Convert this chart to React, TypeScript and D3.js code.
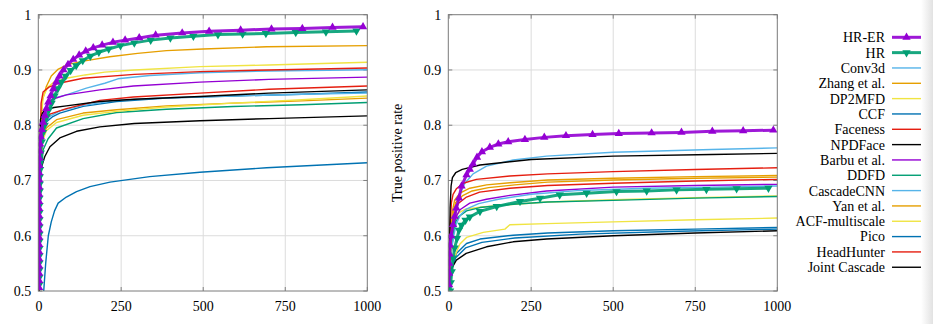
import React from "react";
import * as d3 from "d3";

type Pt = [number, number];

// ---------- shared labels ----------
const seriesNames = [
  "HR-ER", "HR", "Conv3d", "Zhang et al.", "DP2MFD", "CCF", "Faceness", "NPDFace",
  "Barbu et al.", "DDFD", "CascadeCNN", "Yan et al.", "ACF-multiscale", "Pico", "HeadHunter", "Joint Cascade",
];
const seriesColors = [
  "#9400d3", "#009e73", "#56b4e9", "#e69f00", "#f0e442", "#0072b2", "#e51e10", "#000000",
  "#9400d3", "#009e73", "#56b4e9", "#e69f00", "#f0e442", "#0072b2", "#e51e10", "#000000",
];
const xTicks = [0, 250, 500, 750, 1000];
const xTickLabels = ["0", "250", "500", "750", "1000"];
const yTicks = [0.5, 0.6, 0.7, 0.8, 0.9, 1];
const yTickLabels = ["0.5", "0.6", "0.7", "0.8", "0.9", "1"];
const yAxisTitle = "True positive rate";

// ---------- left panel (discrete) ----------
const leftHrEr: Pt[] = [
  [0, 0.506], [0, 0.519], [0, 0.532], [0, 0.545], [0, 0.558], [0, 0.571], [0, 0.584], [0, 0.597],
  [0, 0.61], [0, 0.623], [0, 0.636], [0, 0.649], [0, 0.662], [0, 0.675], [0, 0.688], [0, 0.701],
  [0, 0.714], [1, 0.727], [1, 0.74], [2, 0.753], [3, 0.766], [5, 0.779], [8, 0.792], [12, 0.805],
  [17, 0.818], [22, 0.83], [28, 0.842], [35, 0.853], [43, 0.866], [52, 0.878], [62, 0.889], [74, 0.9],
  [88, 0.91], [104, 0.919], [122, 0.927], [142, 0.934], [165, 0.94], [192, 0.945], [225, 0.95],
  [262, 0.954], [305, 0.958], [355, 0.963], [436, 0.967], [518, 0.97], [614, 0.972], [708, 0.974],
  [802, 0.975], [894, 0.977], [987, 0.978],
];
const leftHr: Pt[] = [
  [1, 0.512], [1, 0.525], [1, 0.538], [1, 0.551], [1, 0.564], [1, 0.577], [1, 0.59], [1, 0.603],
  [1, 0.616], [1, 0.629], [1, 0.642], [1, 0.655], [1, 0.668], [2, 0.681], [2, 0.694], [2, 0.707],
  [3, 0.72], [4, 0.733], [5, 0.75], [8, 0.77], [12, 0.787], [17, 0.8], [23, 0.815], [30, 0.828],
  [38, 0.84], [47, 0.853], [57, 0.866], [68, 0.878], [81, 0.889], [96, 0.899], [113, 0.908],
  [133, 0.917], [156, 0.925], [182, 0.932], [212, 0.938], [248, 0.944], [290, 0.949], [340, 0.954],
  [400, 0.958], [470, 0.961], [545, 0.964], [620, 0.965], [691, 0.966], [782, 0.968], [874, 0.969],
  [967, 0.9705],
];
const leftConv3d: Pt[] = [[0, 0.5], [4, 0.75], [10, 0.81], [25, 0.84], [50, 0.85], [83, 0.855], [144, 0.867], [200, 0.876], [240, 0.884], [337, 0.89], [490, 0.895], [700, 0.898], [1000, 0.9005]];
const leftZhang: Pt[] = [[0, 0.5], [2, 0.7], [5, 0.8], [10, 0.845], [22, 0.87], [37, 0.889], [57, 0.901], [88, 0.91], [144, 0.917], [215, 0.924], [300, 0.93], [388, 0.935], [500, 0.938], [693, 0.942], [1000, 0.944]];
const leftDp2mfd: Pt[] = [[0, 0.5], [2, 0.7], [5, 0.8], [12, 0.85], [25, 0.868], [45, 0.878], [83, 0.885], [140, 0.891], [200, 0.896], [290, 0.9], [490, 0.906], [700, 0.909], [1000, 0.914]];
const leftCcf: Pt[] = [[0, 0.5], [4, 0.74], [10, 0.79], [22, 0.806], [40, 0.815], [63, 0.822], [134, 0.834], [236, 0.843], [388, 0.849], [591, 0.853], [800, 0.856], [1000, 0.86]];
const leftFaceness: Pt[] = [[0, 0.5], [3, 0.75], [6, 0.84], [12, 0.86], [30, 0.869], [60, 0.876], [134, 0.885], [290, 0.892], [490, 0.897], [700, 0.9], [1000, 0.9035]];
const leftNpdface: Pt[] = [[0, 0.5], [5, 0.72], [17, 0.743], [33, 0.761], [63, 0.777], [114, 0.789], [185, 0.797], [290, 0.803], [490, 0.808], [700, 0.812], [1000, 0.817]];
const leftBarbu: Pt[] = [[0, 0.5], [3, 0.72], [8, 0.8], [15, 0.825], [25, 0.838], [40, 0.847], [83, 0.855], [185, 0.864], [287, 0.871], [490, 0.878], [700, 0.883], [1000, 0.887]];
const leftDdfd: Pt[] = [[0, 0.5], [5, 0.7], [12, 0.755], [27, 0.775], [53, 0.795], [134, 0.812], [236, 0.823], [388, 0.829], [591, 0.834], [800, 0.837], [1000, 0.841]];
const leftCascadeCnn: Pt[] = [[0, 0.5], [5, 0.76], [12, 0.8], [30, 0.815], [63, 0.826], [134, 0.836], [236, 0.845], [388, 0.85], [591, 0.853], [800, 0.856], [1000, 0.858]];
const leftYan: Pt[] = [[0, 0.5], [4, 0.72], [10, 0.775], [22, 0.795], [53, 0.81], [134, 0.822], [236, 0.828], [388, 0.835], [591, 0.84], [800, 0.844], [1000, 0.849]];
const leftAcf: Pt[] = [[0, 0.5], [4, 0.72], [10, 0.77], [22, 0.79], [53, 0.805], [134, 0.818], [236, 0.825], [388, 0.833], [591, 0.84], [800, 0.846], [1000, 0.853]];
const leftPico: Pt[] = [[14, 0.5], [20, 0.55], [28, 0.6], [37, 0.625], [47, 0.645], [58, 0.659], [83, 0.67], [114, 0.68], [155, 0.689], [216, 0.697], [337, 0.707], [490, 0.715], [693, 0.723], [1000, 0.732]];
const leftHeadHunter: Pt[] = [[0, 0.5], [4, 0.72], [10, 0.79], [17, 0.808], [33, 0.82], [83, 0.83], [185, 0.845], [287, 0.851], [490, 0.858], [700, 0.865], [1000, 0.871]];
const leftJointCascade: Pt[] = [[0, 0.5], [2, 0.7], [4, 0.81], [10, 0.822], [20, 0.828], [45, 0.832], [83, 0.835], [185, 0.843], [290, 0.847], [490, 0.852], [700, 0.858], [1000, 0.864]];

// ---------- right panel (continuous) ----------
const rightHrEr: Pt[] = [
  [0, 0.511], [0, 0.532], [0, 0.55], [1, 0.567], [2, 0.583], [6, 0.6], [12, 0.62], [17, 0.635],
  [22, 0.65], [30, 0.668], [38, 0.69], [53, 0.71], [63, 0.72], [73, 0.73], [85, 0.742], [100, 0.752],
  [124, 0.76], [150, 0.766], [180, 0.77], [231, 0.774], [290, 0.778], [356, 0.781], [437, 0.783],
  [517, 0.785], [617, 0.786], [708, 0.787], [802, 0.789], [896, 0.79], [988, 0.791],
];
const rightHr: Pt[] = [
  [3, 0.5], [5, 0.515], [8, 0.535], [12, 0.56], [17, 0.578], [24, 0.595], [30, 0.61], [38, 0.619],
  [50, 0.628], [63, 0.634], [94, 0.644], [145, 0.653], [216, 0.662], [277, 0.668], [337, 0.674],
  [419, 0.677], [510, 0.68], [602, 0.681], [693, 0.683], [784, 0.684], [876, 0.685], [973, 0.686],
];
const rightConv3d: Pt[] = [[0, 0.5], [5, 0.56], [12, 0.6], [22, 0.645], [33, 0.675], [48, 0.695], [73, 0.712], [114, 0.726], [195, 0.737], [297, 0.744], [500, 0.751], [800, 0.756], [1000, 0.759]];
const rightZhang: Pt[] = [[0, 0.5], [5, 0.6], [10, 0.645], [17, 0.665], [33, 0.677], [63, 0.686], [114, 0.692], [185, 0.696], [300, 0.701], [500, 0.704], [750, 0.707], [1000, 0.709]];
const rightDp2mfd: Pt[] = [[0, 0.5], [5, 0.58], [12, 0.62], [25, 0.64], [50, 0.648], [100, 0.652], [200, 0.657], [300, 0.661], [500, 0.665], [750, 0.669], [1000, 0.672]];
const rightCcf: Pt[] = [[0, 0.5], [5, 0.53], [12, 0.55], [22, 0.568], [53, 0.586], [94, 0.594], [195, 0.601], [300, 0.605], [500, 0.609], [750, 0.612], [1000, 0.615]];
const rightFaceness: Pt[] = [[0, 0.5], [3, 0.62], [7, 0.66], [12, 0.675], [22, 0.685], [43, 0.695], [83, 0.702], [185, 0.708], [300, 0.712], [500, 0.716], [750, 0.72], [1000, 0.723]];
const rightNpdface: Pt[] = [[0, 0.5], [2, 0.6], [3, 0.65], [6, 0.69], [10, 0.705], [20, 0.714], [40, 0.72], [94, 0.728], [185, 0.734], [250, 0.738], [500, 0.744], [800, 0.747], [1000, 0.749]];
const rightBarbu: Pt[] = [[0, 0.5], [5, 0.58], [12, 0.615], [22, 0.635], [33, 0.647], [63, 0.659], [114, 0.666], [185, 0.673], [297, 0.681], [500, 0.688], [750, 0.691], [1000, 0.693]];
const rightDdfd: Pt[] = [[0, 0.5], [5, 0.56], [12, 0.6], [20, 0.625], [30, 0.635], [53, 0.645], [94, 0.651], [195, 0.657], [300, 0.661], [500, 0.664], [750, 0.668], [1000, 0.671]];
const rightCascadeCnn: Pt[] = [[0, 0.5], [6, 0.57], [14, 0.6], [22, 0.622], [35, 0.638], [52, 0.648], [90, 0.658], [150, 0.666], [250, 0.675], [400, 0.682], [600, 0.686], [800, 0.688], [1000, 0.69]];
const rightYan: Pt[] = [[0, 0.5], [6, 0.6], [12, 0.64], [20, 0.66], [40, 0.672], [70, 0.681], [120, 0.687], [200, 0.692], [300, 0.697], [500, 0.701], [750, 0.704], [1000, 0.706]];
const rightAcf: Pt[] = [[0, 0.5], [5, 0.53], [12, 0.55], [22, 0.57], [33, 0.585], [53, 0.597], [104, 0.606], [170, 0.612], [185, 0.62], [297, 0.622], [500, 0.625], [750, 0.629], [1000, 0.632]];
const rightPico: Pt[] = [[0, 0.5], [8, 0.54], [20, 0.56], [50, 0.578], [100, 0.588], [200, 0.596], [400, 0.603], [700, 0.608], [1000, 0.612]];
const rightHeadHunter: Pt[] = [[0, 0.5], [5, 0.59], [12, 0.63], [27, 0.658], [53, 0.67], [93, 0.679], [185, 0.686], [300, 0.691], [500, 0.695], [750, 0.699], [1000, 0.702]];
const rightJointCascade: Pt[] = [[0, 0.5], [3, 0.52], [7, 0.54], [22, 0.556], [52, 0.568], [114, 0.58], [195, 0.589], [297, 0.594], [500, 0.6], [750, 0.605], [1000, 0.609]];

const leftSeries: Pt[][] = [
  leftHrEr, leftHr, leftConv3d, leftZhang, leftDp2mfd, leftCcf, leftFaceness, leftNpdface,
  leftBarbu, leftDdfd, leftCascadeCnn, leftYan, leftAcf, leftPico, leftHeadHunter, leftJointCascade,
];
const rightSeries: Pt[][] = [
  rightHrEr, rightHr, rightConv3d, rightZhang, rightDp2mfd, rightCcf, rightFaceness, rightNpdface,
  rightBarbu, rightDdfd, rightCascadeCnn, rightYan, rightAcf, rightPico, rightHeadHunter, rightJointCascade,
];

// ---------- layout ----------
const W = 933;
const H = 324;
const FONT = "'Liberation Serif', 'Times New Roman', serif";
const plotTop = 14.7;
const plotBottom = 291;
const plotWidth = 329;
const panelLefts = [38.3, 448.3];

const upTri = d3.symbol(d3.symbolTriangle, 30)() as string;

function Marker({ x, y, color, down }: { x: number; y: number; color: string; down: boolean }) {
  return (
    <path
      d={upTri}
      transform={`translate(${x},${y})${down ? " rotate(180)" : ""}`}
      fill={color}
      stroke="none"
    />
  );
}

function Panel({ left, series, idx, showTitle }: { left: number; series: Pt[][]; idx: number; showTitle: boolean }) {
  const x = d3.scaleLinear().domain([-2.5, 1000]).range([left, left + plotWidth]);
  const y = d3.scaleLinear().domain([0.5, 1]).range([plotBottom, plotTop]);
  const line = d3.line<Pt>().x((d) => x(d[0])).y((d) => y(d[1]));
  const clipId = `clip${idx}`;
  const order = [2, 3, 4, 5, 6, 7, 8, 9, 10, 11, 12, 13, 14, 15, 1, 0];
  return (
    <g>
      <defs>
        <clipPath id={clipId}>
          <rect x={left} y={plotTop} width={plotWidth} height={plotBottom - plotTop} />
        </clipPath>
      </defs>
      {/* grid */}
      {xTicks.slice(1, -1).map((t) => (
        <line key={"gx" + t} x1={x(t)} x2={x(t)} y1={plotTop} y2={plotBottom} stroke="#dcdcdc" strokeWidth={1} />
      ))}
      {yTicks.slice(1, -1).map((t) => (
        <line key={"gy" + t} x1={left} x2={left + plotWidth} y1={y(t)} y2={y(t)} stroke="#dcdcdc" strokeWidth={1} />
      ))}
      {/* ticks inward */}
      {xTicks.map((t) => (
        <g key={"tx" + t}>
          <line x1={x(t)} x2={x(t)} y1={plotBottom} y2={plotBottom - 4} stroke="#808080" />
          <line x1={x(t)} x2={x(t)} y1={plotTop} y2={plotTop + 4} stroke="#808080" />
        </g>
      ))}
      {yTicks.map((t) => (
        <g key={"ty" + t}>
          <line x1={left} x2={left + 4} y1={y(t)} y2={y(t)} stroke="#808080" />
          <line x1={left + plotWidth} x2={left + plotWidth - 4} y1={y(t)} y2={y(t)} stroke="#808080" />
        </g>
      ))}
      {/* series */}
      <g clipPath={`url(#${clipId})`}>
        {order.map((i) => {
          const thick = i < 2;
          return (
            <g key={"s" + i}>
              <path
                d={line(series[i]) || ""}
                fill="none"
                stroke={seriesColors[i]}
                strokeWidth={thick ? 3 : 1.4}
                strokeLinejoin="round"
                opacity={thick ? 0.9 : 1}
              />
              {thick &&
                series[i].map((p, k) => (
                  <Marker key={k} x={x(p[0])} y={y(p[1])} color={seriesColors[i]} down={i === 1} />
                ))}
            </g>
          );
        })}
      </g>
      {/* frame */}
      <rect x={left} y={plotTop} width={plotWidth} height={plotBottom - plotTop} fill="none" stroke="#7a7a7a" strokeWidth={1} />
      {/* tick labels */}
      {xTicks.map((t, i) => (
        <text key={"lx" + t} x={x(t)} y={plotBottom + 20} textAnchor="middle" fontFamily={FONT} fontSize={14} fill="#000">
          {xTickLabels[i]}
        </text>
      ))}
      {yTicks.map((t, i) => (
        <text key={"ly" + t} x={left - 7} y={y(t)} dy="0.35em" textAnchor="end" fontFamily={FONT} fontSize={14} fill="#000">
          {yTickLabels[i]}
        </text>
      ))}
      {showTitle && (
        <text
          transform={`translate(${left - 51},${(plotTop + plotBottom) / 2}) rotate(-90)`}
          textAnchor="middle"
          dy="0.35em"
          fontFamily={FONT}
          fontSize={14}
          fill="#000"
        >
          {yAxisTitle}
        </text>
      )}
    </g>
  );
}

export default function App() {
  const legendTop = 37.3;
  const legendStep = 15.33;
  const legendTextX = 885;
  const legendLineX1 = 892;
  const legendLineX2 = 921;
  return (
    <svg
      width={W}
      height={H}
      viewBox={`0 0 ${W} ${H}`}
      style={{ position: "absolute", left: 0, top: 0, background: "#fff" }}
    >
      <defs>
        <linearGradient id="shade" x1="0" x2="1" y1="0" y2="0">
          <stop offset="0" stopColor="#ffffff" />
          <stop offset="1" stopColor="#e2e2e2" />
        </linearGradient>
      </defs>
      <rect x={0} y={0} width={W} height={H} fill="#fff" />
      <rect x={921} y={0} width={12} height={H} fill="url(#shade)" />
      <Panel left={panelLefts[0]} series={leftSeries} idx={0} showTitle={false} />
      <Panel left={panelLefts[1]} series={rightSeries} idx={1} showTitle={true} />
      {/* legend */}
      {seriesNames.map((name, i) => {
        const yy = legendTop + i * legendStep;
        const thick = i < 2;
        return (
          <g key={"lg" + i}>
            <text x={legendTextX} y={yy} dy="0.35em" textAnchor="end" fontFamily={FONT} fontSize={14} fill="#000">
              {name}
            </text>
            <line
              x1={legendLineX1}
              x2={legendLineX2}
              y1={yy}
              y2={yy}
              stroke={seriesColors[i]}
              strokeWidth={thick ? 3 : 1.4}
              opacity={thick ? 0.9 : 1}
            />
            {thick && (
              <Marker x={(legendLineX1 + legendLineX2) / 2} y={yy} color={seriesColors[i]} down={i === 1} />
            )}
          </g>
        );
      })}
    </svg>
  );
}
